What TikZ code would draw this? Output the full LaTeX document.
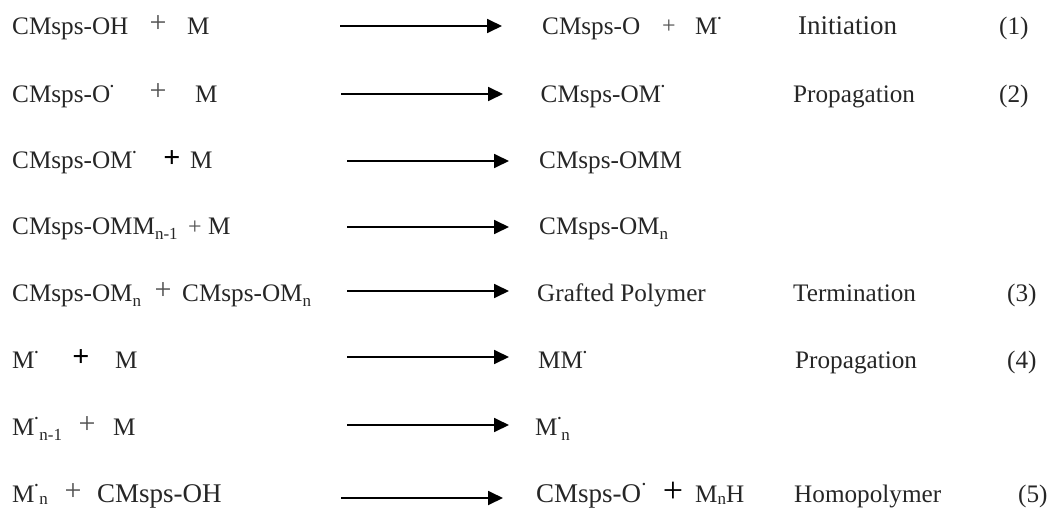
\documentclass[tikz,border=0pt]{standalone}
\usepackage{fontspec}
\setmainfont{Liberation Serif}
\usetikzlibrary{arrows.meta}
\newcommand{\rdot}{\raisebox{0.6em}{\fontsize{15}{15}\selectfont\bfseries.}}
\newcommand{\sbs}[1]{\raisebox{-0.2em}{\fontsize{17}{18}\selectfont #1}}
\newcommand{\sbl}[1]{\raisebox{-0.08em}{\fontsize{17}{18}\selectfont #1}}
\definecolor{ink}{HTML}{262626}
\tikzset{
  txt/.style={anchor=base west,inner sep=0pt,text=ink,font=\fontsize{25.2}{27}\selectfont},
  txtw/.style={txt,font=\fontsize{27}{29}\selectfont},
  plusb/.style={anchor=base,inner sep=0pt,text=ink!80,font=\fontsize{30}{30}\selectfont},
  pluss/.style={plusb,font=\fontsize{24}{24}\selectfont},
  plusk/.style={anchor=base,inner sep=0pt,text=black,font=\fontsize{30}{30}\selectfont\bfseries},
  plusbig/.style={anchor=base,inner sep=0pt,text=black,font=\fontsize{36}{36}\selectfont},
  rarrow/.style={draw=black,line width=1.8pt,-{Stealth[length=15pt,width=14pt,inset=0pt]}}
}
\begin{document}
\begin{tikzpicture}[x=1pt,y=-1pt]
\useasboundingbox (0,0) rectangle (1051,508);
% row 1
\node[txt] (a1) at (12,34.5) {CMsps-OH};
\node[plusb] (p1) at (158,33) {+};
\node[txt] (b1) at (187,34.5) {M};
\coordinate (s1) at (340,26); \coordinate (e1) at (502,26);
\draw[rarrow] (s1) -- (e1);
\node[txt] (c1) at (542,34.5) {CMsps-O};
\node[pluss] (q1) at (669,34) {+};
\node[txt] (d1) at (695,34.5) {M\rdot};
\node[txtw] (f1) at (798,34.5) {Initiation};
\node[txt] (g1) at (999,34.5) {(1)};
% row 2
\node[txt] (a2) at (12,102.5) {CMsps-O\rdot};
\node[plusb] (p2) at (158,101) {+};
\node[txt] (b2) at (195,102.5) {M};
\coordinate (s2) at (341,94); \coordinate (e2) at (503,94);
\draw[rarrow] (s2) -- (e2);
\node[txt] (c2) at (540.5,102.5) {CMsps-OM\rdot};
\node[txt] (f2) at (793,102.5) {Propagation};
\node[txt] (g2) at (999,102.5) {(2)};
% row 3
\node[txt] (a3) at (12,168.5) {CMsps-OM\rdot};
\node[plusk] (p3) at (172,167) {+};
\node[txt] (b3) at (190,168.5) {M};
\coordinate (s3) at (347,161); \coordinate (e3) at (509,161);
\draw[rarrow] (s3) -- (e3);
\node[txt] (c3) at (539,168.5) {CMsps-OMM};
% row 4
\node[txt] (a4) at (12,234.5) {CMsps-OMM\sbs{n-1}};
\node[pluss] (p4) at (195,234) {+};
\node[txt] (b4) at (208,234.5) {M};
\coordinate (s4) at (347,227); \coordinate (e4) at (509,227);
\draw[rarrow] (s4) -- (e4);
\node[txt] (c4) at (539,234.5) {CMsps-OM\sbs{n}};
% row 5
\node[txt] (a5) at (12,301.5) {CMsps-OM\sbs{n}};
\node[plusb] (p5) at (163,299) {+};
\node[txt] (b5) at (182,301.5) {CMsps-OM\sbs{n}};
\coordinate (s5) at (347,291); \coordinate (e5) at (509,291);
\draw[rarrow] (s5) -- (e5);
\node[txt] (c5) at (537,301.5) {Grafted Polymer};
\node[txt] (f5) at (793,301.5) {Termination};
\node[txt] (g5) at (1007,301.5) {(3)};
% row 6
\node[txt] (a6) at (12,368.5) {M\rdot};
\node[plusk] (p6) at (81,366) {+};
\node[txt] (b6) at (115,368.5) {M};
\coordinate (s6) at (347,357); \coordinate (e6) at (509,357);
\draw[rarrow] (s6) -- (e6);
\node[txt] (c6) at (538,368.5) {MM\rdot};
\node[txt] (f6) at (795,368.5) {Propagation};
\node[txt] (g6) at (1007,368.5) {(4)};
% row 7
\node[txt] (a7) at (12,435) {M\rdot\kern1pt\sbs{n-1}};
\node[plusb] (p7) at (87,433) {+};
\node[txt] (b7) at (113,435) {M};
\coordinate (s7) at (347,425); \coordinate (e7) at (509,425);
\draw[rarrow] (s7) -- (e7);
\node[txt] (c7) at (535,435) {M\rdot\sbs{n}};
% row 8
\node[txt] (a8) at (12,502) {M\rdot\kern1pt\sbl{n}};
\node[plusb] (p8) at (73,500) {+};
\node[txtw] (b8) at (97,502) {CMsps-OH};
\coordinate (s8) at (341,498); \coordinate (e8) at (503,498);
\draw[rarrow] (s8) -- (e8);
\node[txtw] (c8) at (536,502) {CMsps-O\kern1pt\rdot};
\node[plusbig] (q8) at (673,502) {+};
\node[txt] (d8) at (695,502) {M\sbl{n}H};
\node[txt] (f8) at (794,502) {Homopolymer};
\node[txt] (g8) at (1018,502) {(5)};
\end{tikzpicture}
\end{document}
